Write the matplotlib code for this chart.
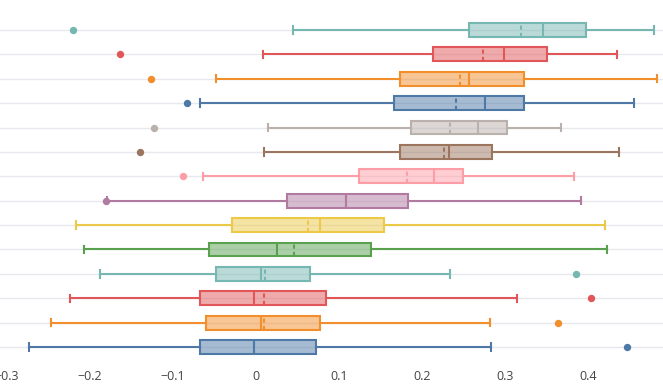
import numpy as np
import matplotlib.pyplot as plt
from matplotlib.colors import to_rgba

# box statistics, listed from the top row to the bottom row
colors = ['#76b7b2', '#e15759', '#f28e2b', '#4e79a7', '#bab0ac', '#9c755f', '#ff9da7',
          '#b07aa1', '#edc948', '#59a14f', '#76b7b2', '#e15759', '#f28e2b', '#4e79a7']
whislo = [0.045, 0.008, -0.048, -0.068, 0.014, 0.010, -0.064,
          -0.179, -0.2165, -0.207, -0.188, -0.224, -0.247, -0.2735]
q1 = [0.256, 0.213, 0.174, 0.166, 0.187, 0.174, 0.124,
      0.037, -0.029, -0.0566, -0.048, -0.068, -0.0606, -0.068]
med = [0.346, 0.299, 0.256, 0.276, 0.267, 0.2325, 0.214,
       0.108, 0.0767, 0.0257, 0.006, -0.002, 0.0056, -0.002]
mean = [0.319, 0.273, 0.246, 0.241, 0.234, 0.226, 0.182,
        0.108, 0.0627, 0.0454, 0.0112, 0.010, 0.0093, -0.003]
q3 = [0.397, 0.350, 0.323, 0.323, 0.302, 0.284, 0.249,
      0.183, 0.1546, 0.139, 0.065, 0.0843, 0.077, 0.0723]
whishi = [0.480, 0.435, 0.483, 0.455, 0.367, 0.437, 0.383,
          0.392, 0.420, 0.4225, 0.234, 0.3145, 0.282, 0.283]
fliers = [[-0.220], [-0.164], [-0.127], [-0.083], [-0.1225], [-0.140], [-0.088],
          [-0.181], [], [], [0.3855], [0.403], [0.364], [0.4466]]

xticks = [-0.3, -0.2, -0.1, 0, 0.1, 0.2, 0.3, 0.4]
xticklabels = ['\u22120.3', '\u22120.2', '\u22120.1', '0', '0.1', '0.2', '0.3', '0.4']

plt.rcParams['font.family'] = ['Open Sans', 'DejaVu Sans']

fig = plt.figure(figsize=(6.63, 3.92), dpi=100)
ax = fig.add_axes([0, 1 - 359.2 / 392, 1, (359.2 - 17.8) / 392])

n = len(colors)
for i in range(n):
    pos = n - 1 - i
    c = colors[i]
    ax.axhline(pos, color='#e8e8ef', lw=1, zorder=0)
    stats = [dict(whislo=whislo[i], q1=q1[i], med=med[i], mean=mean[i],
                  q3=q3[i], whishi=whishi[i], fliers=np.array(fliers[i]))]
    ax.bxp(stats, positions=[pos], orientation='horizontal', widths=0.57,
           capwidths=0.3, patch_artist=True, showmeans=True, meanline=True,
           boxprops=dict(facecolor=to_rgba(c, 0.5), edgecolor=c, linewidth=1.5),
           whiskerprops=dict(color=c, linewidth=1.5),
           capprops=dict(color=c, linewidth=1.5),
           medianprops=dict(color=c, linewidth=1.5),
           meanprops=dict(color=c, linewidth=1.5, linestyle=(0, (2, 1.5))),
           flierprops=dict(marker='o', markerfacecolor=c, markeredgecolor=c,
                           markersize=4.3, linestyle='none'),
           manage_ticks=False, zorder=2)

ax.set_xlim(-0.3085, 0.4903)
ax.set_ylim(-0.5, n - 0.5)
ax.set_yticks([])
ax.set_xticks(xticks)
ax.set_xticklabels(xticklabels)
ax.tick_params(axis='x', length=0, pad=8, labelsize=9, labelcolor='#444444')
for s in ax.spines.values():
    s.set_visible(False)

plt.savefig('out.png', dpi=100)
